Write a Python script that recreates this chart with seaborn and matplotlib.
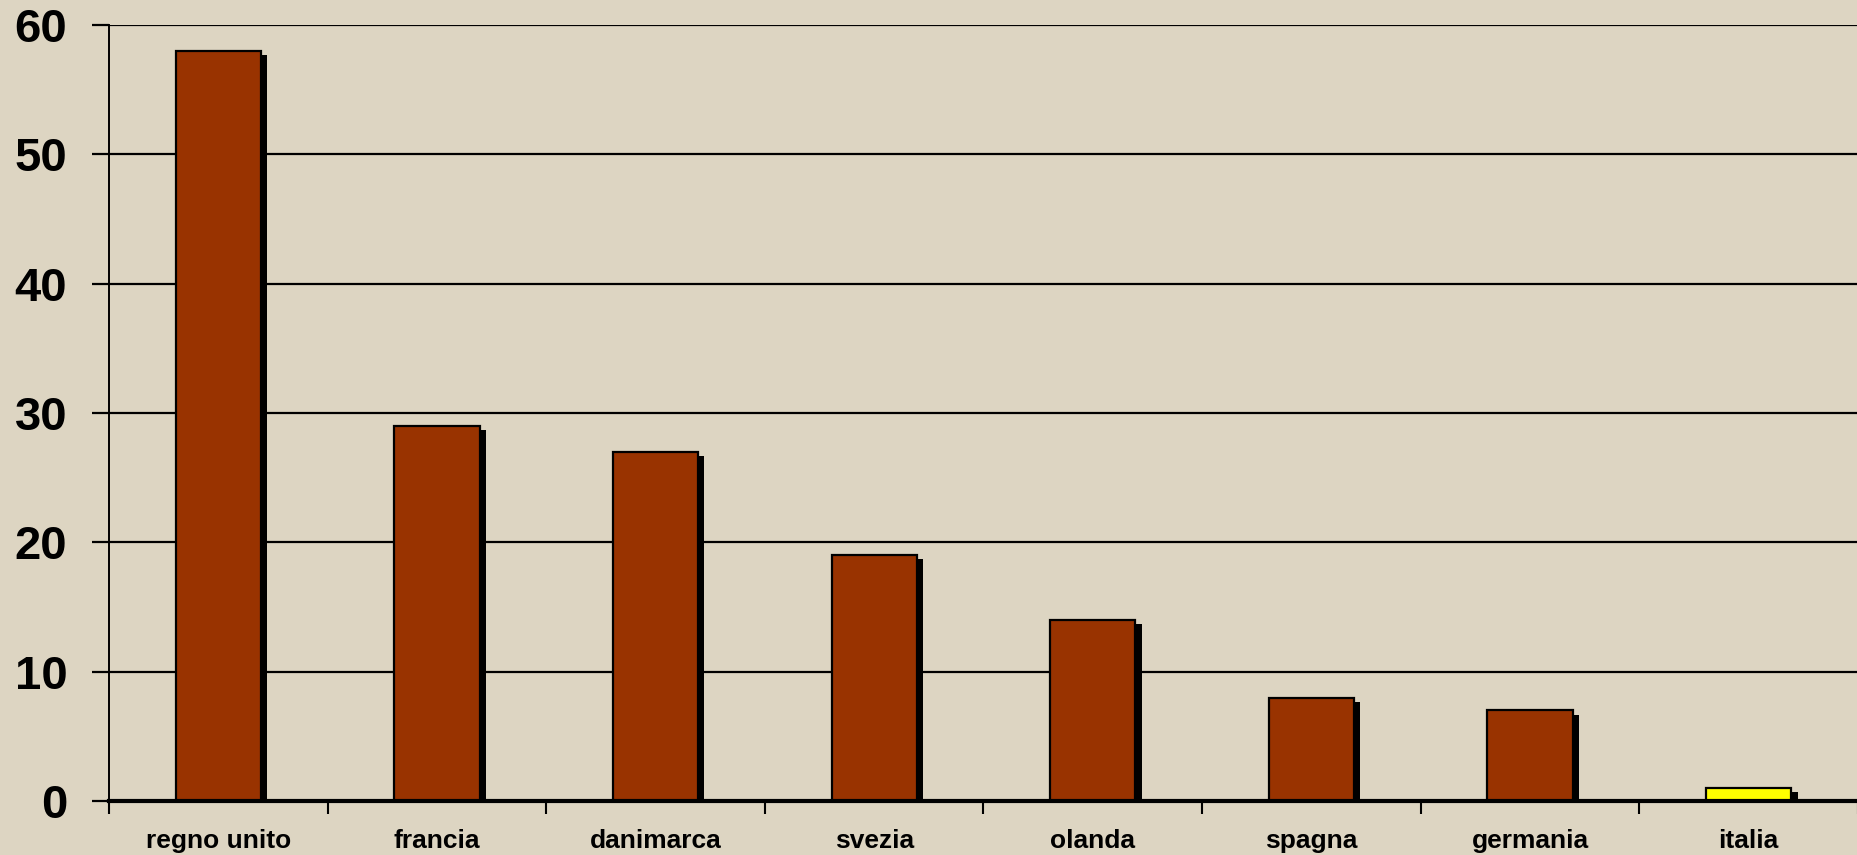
import matplotlib
matplotlib.use("Agg")
import matplotlib.pyplot as plt
import matplotlib.patheffects as pe
import seaborn as sns
import pandas as pd

countries = ["regno unito", "francia", "danimarca", "svezia", "olanda", "spagna", "germania", "italia"]
values = [58, 29, 27, 19, 14, 8, 7, 1]
bar_colors = ["#993300"] * 7 + ["#FFFF00"]
y_ticks = [0, 10, 20, 30, 40, 50, 60]

bg = "#DDD5C2"
sns.set_theme(style="white")
plt.rcParams["font.family"] = ["Liberation Sans", "DejaVu Sans"]

df = pd.DataFrame({"country": countries, "value": values})

fig = plt.figure(figsize=(18.58, 8.55), dpi=100, facecolor=bg)
ax = fig.add_axes([109 / 1858, 1 - 801 / 855, 1 - 109 / 1858, (801 - 25) / 855])
ax.set_facecolor(bg)

sns.barplot(data=df, x="country", y="value", hue="country", palette=bar_colors,
            width=0.39, legend=False, ax=ax, edgecolor="black", linewidth=1.6,
            saturation=1, zorder=3)

for p in ax.patches:
    p.set_path_effects([pe.SimplePatchShadow(offset=(4.5, -3), shadow_rgbFace="black", alpha=1.0),
                        pe.Normal()])

ax.set_ylim(0, 60)
ax.set_xlim(-0.5, len(countries) - 0.5)
ax.set_yticks(y_ticks)
ax.set_yticklabels([str(v) for v in y_ticks], fontsize=34, fontweight="bold", color="black")
ax.yaxis.grid(True, color="black", linewidth=1.6, zorder=0)
ax.set_axisbelow(True)

ax.set_xticks(range(len(countries)))
ax.set_xticklabels(countries, fontsize=19, fontweight="bold", color="black")
ax.set_xticks([i - 0.5 for i in range(len(countries) + 1)], minor=True)
ax.tick_params(axis="x", which="major", length=0, pad=20, labelcolor="black")
ax.tick_params(axis="x", which="minor", length=9, width=1.5, color="black", direction="out", bottom=True)
ax.tick_params(axis="y", which="major", length=12, width=1.6, color="black", direction="out", pad=18,
               left=True, labelcolor="black")

ax.set_xlabel("")
ax.set_ylabel("")
for s in ["top", "right"]:
    ax.spines[s].set_visible(False)
ax.spines["left"].set_color("black")
ax.spines["left"].set_linewidth(1.4)
ax.spines["bottom"].set_color("black")
ax.spines["bottom"].set_linewidth(3)
ax.spines["bottom"].set_zorder(5)

fig.savefig("out.png", dpi=100, facecolor=bg)
